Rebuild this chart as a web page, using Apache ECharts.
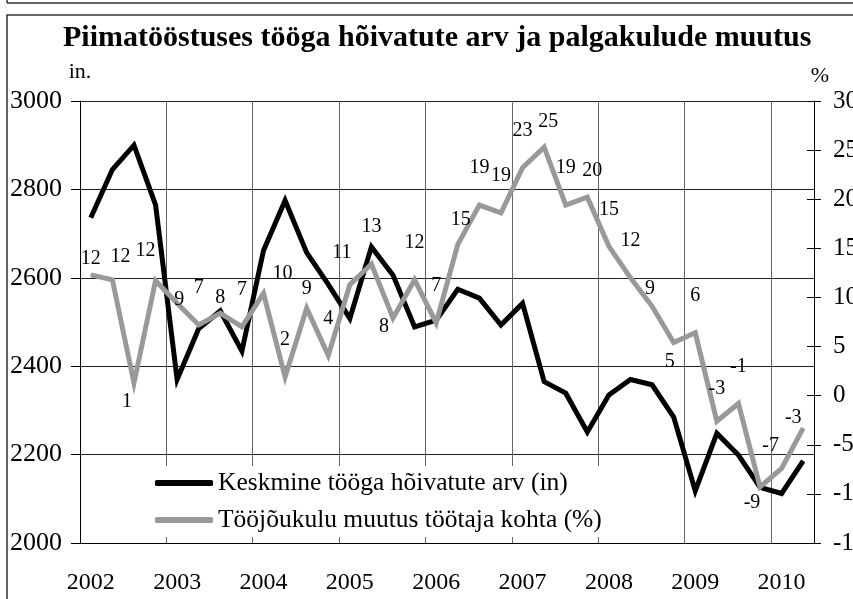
<!DOCTYPE html>
<html>
<head>
<meta charset="utf-8">
<title>Piimatööstus</title>
<script src="https://cdn.jsdelivr.net/npm/echarts@6/dist/echarts.min.js"></script>
<style>
  html, body { margin: 0; padding: 0; background: #fff; }
  #main { width: 853px; height: 599px; }
</style>
</head>
<body>
<div id="main"></div>
<script type="text/javascript">
// quarters 2002 I .. 2010 II
var quarters = [];
for (var y = 2002; y <= 2010; y++) {
  for (var q = 1; q <= 4; q++) {
    if (y === 2010 && q > 2) break;
    quarters.push(y + ' ' + q);
  }
}

// average number of employees (in.)
var employees = [2736, 2845, 2900, 2765, 2370, 2485, 2525, 2434, 2662, 2775,
  2657, 2585, 2508, 2670, 2606, 2489, 2504, 2574, 2554, 2493,
  2542, 2365, 2339, 2251, 2335, 2370, 2358, 2285, 2118, 2248,
  2199, 2126, 2112, 2186];

// labour cost change per employee (%)
var costChange = [12.3, 11.8, 1.3, 11.7, 9.4, 7.2, 8.4, 7.0, 10.4, 1.9,
  8.9, 4.1, 11.3, 13.4, 7.9, 11.8, 7.4, 15.4, 19.4, 18.6,
  23.2, 25.3, 19.4, 20.2, 15.2, 12.0, 9.1, 5.4, 6.4, -2.6,
  -0.8, -9.3, -7.4, -3.3];

// label placement (style only)
var labelShift = {
  0: [0, -16], 1: [8, -23], 2: [-7, 19], 3: [-10, -30], 4: [2, -4],
  6: [0, -15], 8: [19, -20], 10: [0, -19], 12: [-8, -32], 14: [-9, 9],
  17: [3, -25], 21: [4, -25], 23: [5, -27], 26: [-2, -18], 27: [-4, 19],
  29: [0, -32], 31: [-8, 16], 32: [-11, -23], 33: [-10, -10]
};

var serif = "'Liberation Serif', 'Times New Roman', serif";

var myChart = echarts.init(document.getElementById('main'));

var grayData = costChange.map(function (v, i) {
  return {
    value: v,
    label: { offset: labelShift[i] || [0, -37] }
  };
});

var option = {
  backgroundColor: '#fff',
  animation: false,
  title: {
    text: 'Piimatööstuses tööga hõivatute arv ja palgakulude muutus',
    left: 58,
    top: 18,
    textStyle: { fontFamily: serif, fontWeight: 'bold', fontSize: 30, color: '#000' }
  },
  graphic: [
    { type: 'line', shape: { x1: 7, y1: 3, x2: 853, y2: 3 }, style: { stroke: '#333', lineWidth: 1.5 } },
    { type: 'line', shape: { x1: 7, y1: 0, x2: 7, y2: 3 }, style: { stroke: '#333', lineWidth: 1.5 } },
    { type: 'rect', shape: { x: 7, y: 15, width: 900, height: 700 }, style: { fill: null, stroke: '#333', lineWidth: 1.5 }, z: -1 }
  ],
  legend: {
    orient: 'vertical',
    left: 150,
    top: 466,
    itemWidth: 58,
    itemHeight: 6,
    itemGap: 11,
    padding: [4, 30, 4, 5],
    backgroundColor: '#fff',
    icon: 'roundRect',
    textStyle: { fontFamily: serif, fontSize: 25.5, color: '#000' },
    data: ['Keskmine tööga hõivatute arv (in)', 'Tööjõukulu muutus töötaja kohta (%)']
  },
  grid: { left: 80, right: 39, top: 101, bottom: 56, containLabel: false, outerBoundsMode: 'none' },
  xAxis: {
    type: 'category',
    data: quarters,
    boundaryGap: true,
    axisLine: { onZero: false, lineStyle: { color: '#000', width: 1 } },
    axisTick: { interval: 3, length: 7, lineStyle: { color: '#000' } },
    axisLabel: {
      interval: 3,
      margin: 28,
      fontFamily: serif,
      fontSize: 24,
      color: '#000',
      formatter: function (v) { return v.split(' ')[0]; }
    },
    splitLine: { show: true, interval: 3, lineStyle: { color: '#666', width: 1 } }
  },
  yAxis: [{
    type: 'value',
    position: 'left',
    min: 2000,
    max: 3000,
    interval: 200,
    name: 'in.',
    nameLocation: 'end',
    nameGap: 18,
    nameTextStyle: { fontFamily: serif, fontSize: 22, color: '#000', align: 'center' },
    axisLine: { show: true, lineStyle: { color: '#000', width: 1 } },
    axisTick: { show: true, length: 9, lineStyle: { color: '#000' } },
    axisLabel: { margin: 18, fontFamily: serif, fontSize: 26, color: '#000', formatter: function (v) { return String(v); } },
    splitLine: { show: true, lineStyle: { color: '#222', width: 1 } }
  }, {
    type: 'value',
    position: 'right',
    min: -15,
    max: 30,
    interval: 5,
    name: '%',
    nameLocation: 'end',
    nameGap: 14,
    nameTextStyle: { fontFamily: serif, fontSize: 22, color: '#000', align: 'center', padding: [0, 0, 0, 12] },
    axisLine: { show: true, lineStyle: { color: '#000', width: 1 } },
    axisTick: { show: true, length: 7, lineStyle: { color: '#000' } },
    axisLabel: { margin: 19, fontFamily: serif, fontSize: 25, color: '#000' },
    splitLine: { show: false }
  }, {
    type: 'value',
    position: 'right',
    min: -15,
    max: 30,
    interval: 5,
    axisLine: { show: false },
    axisTick: { show: true, inside: true, length: 7, lineStyle: { color: '#000' } },
    axisLabel: { show: false },
    splitLine: { show: false }
  }],
  series: [{
    name: 'Keskmine tööga hõivatute arv (in)',
    type: 'line',
    yAxisIndex: 0,
    data: employees,
    symbol: 'none',
    color: '#000',
    lineStyle: { color: '#000', width: 5, join: 'miter' }
  }, {
    name: 'Tööjõukulu muutus töötaja kohta (%)',
    type: 'line',
    yAxisIndex: 1,
    data: grayData,
    symbol: 'circle',
    symbolSize: 1,
    color: '#999',
    itemStyle: { color: '#999' },
    lineStyle: { color: '#999', width: 5, join: 'miter' },
    label: {
      show: true,
      position: 'inside',
      fontFamily: serif,
      fontSize: 20,
      color: '#000',
      formatter: function (p) { return Math.round(p.value); }
    }
  }]
};

myChart.setOption(option);
</script>
</body>
</html>
